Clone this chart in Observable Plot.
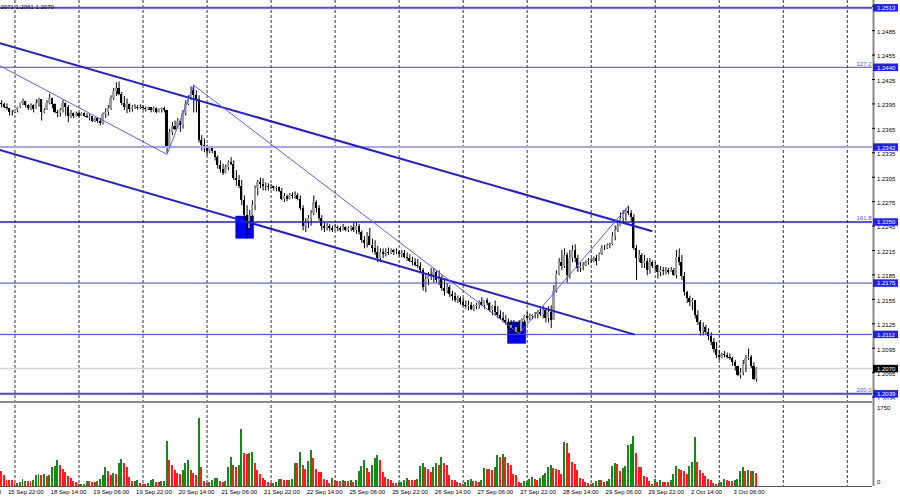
<!DOCTYPE html>
<html><head><meta charset="utf-8">
<script src="https://cdn.jsdelivr.net/npm/d3@7"></script>
<script src="https://cdn.jsdelivr.net/npm/@observablehq/plot@0.6"></script>
<style>
body{margin:0;background:#fff;}
#chart{width:900px;height:500px;overflow:hidden;background:#fff;}
#chart svg{display:block;}
</style></head><body><div id="chart"></div>
<script>
// ---- data (H1 bars, index 0 = 15 Sep 22:00) ----
const firstIndex = -2;
const firstOpen = 1.2396;
const closes = [
1.2394,1.2391,1.2389,1.2384,1.2385,1.2387,1.2390,1.2395,1.2398,1.2393,
1.2389,1.2393,1.2388,1.2396,1.2400,1.2384,1.2387,1.2396,1.2402,1.2394,
1.2385,1.2383,1.2387,1.2395,1.2391,1.2379,1.2383,1.2379,1.2383,1.2380,
1.2383,1.2380,1.2378,1.2379,1.2374,1.2377,1.2373,1.2371,1.2382,1.2384,
1.2389,1.2402,1.2410,1.2414,1.2407,1.2396,1.2391,1.2394,1.2388,1.2390,
1.2391,1.2389,1.2391,1.2389,1.2388,1.2390,1.2387,1.2389,1.2385,1.2388,
1.2389,1.2387,1.2342,1.2360,1.2367,1.2364,1.2373,1.2368,1.2383,1.2394,
1.2401,1.2412,1.2405,1.2401,1.2350,1.2344,1.2340,1.2337,1.2340,1.2336,
1.2329,1.2319,1.2315,1.2310,1.2317,1.2323,1.2321,1.2303,1.2301,1.2293,
1.2276,1.2258,1.2242,1.2258,1.2270,1.2291,1.2298,1.2296,1.2293,1.2294,
1.2292,1.2293,1.2291,1.2292,1.2288,1.2278,1.2281,1.2278,1.2282,1.2281,
1.2283,1.2278,1.2266,1.2245,1.2249,1.2254,1.2260,1.2274,1.2267,1.2254,
1.2244,1.2242,1.2244,1.2242,1.2240,1.2243,1.2242,1.2239,1.2243,1.2240,
1.2242,1.2243,1.2239,1.2245,1.2237,1.2227,1.2224,1.2232,1.2221,1.2217,
1.2212,1.2205,1.2212,1.2210,1.2213,1.2211,1.2215,1.2212,1.2213,1.2210,
1.2211,1.2207,1.2205,1.2202,1.2200,1.2197,1.2195,1.2190,1.2169,1.2180,
1.2185,1.2183,1.2188,1.2178,1.2180,1.2168,1.2165,1.2169,1.2161,1.2158,
1.2153,1.2156,1.2151,1.2148,1.2146,1.2148,1.2143,1.2146,1.2148,1.2151,
1.2147,1.2153,1.2150,1.2141,1.2146,1.2139,1.2135,1.2131,1.2129,1.2125,
1.2119,1.2123,1.2114,1.2121,1.2116,1.2129,1.2134,1.2131,1.2134,1.2135,
1.2136,1.2139,1.2136,1.2141,1.2131,1.2139,1.2129,1.2165,1.2186,1.2200,
1.2195,1.2209,1.2184,1.2205,1.2215,1.2205,1.2193,1.2195,1.2197,1.2200,
1.2202,1.2201,1.2205,1.2202,1.2210,1.2217,1.2218,1.2221,1.2222,1.2232,
1.2239,1.2244,1.2254,1.2259,1.2263,1.2260,1.2256,1.2217,1.2205,1.2209,
1.2199,1.2202,1.2190,1.2200,1.2195,1.2197,1.2188,1.2190,1.2189,1.2190,
1.2188,1.2190,1.2184,1.2207,1.2200,1.2183,1.2163,1.2156,1.2151,1.2153,
1.2135,1.2126,1.2116,1.2121,1.2114,1.2109,1.2102,1.2094,1.2086,1.2084,
1.2087,1.2086,1.2084,1.2082,1.2077,1.2072,1.2062,1.2065,1.2075,1.2082,
1.2084,1.2072,1.2057,1.2070];
const highs = [
1.2399,1.2396,1.2395,1.2389,1.2387,1.2388,1.2391,1.2396,1.2401,1.2398,
1.2394,1.2395,1.2394,1.2400,1.2402,1.2393,1.2389,1.2399,1.2407,1.2399,
1.2395,1.2387,1.2389,1.2399,1.2396,1.2393,1.2387,1.2384,1.2385,1.2384,
1.2384,1.2384,1.2383,1.2382,1.2379,1.2378,1.2378,1.2377,1.2384,1.2389,
1.2393,1.2405,1.2414,1.2421,1.2422,1.2409,1.2404,1.2401,1.2395,1.2393,
1.2394,1.2393,1.2394,1.2393,1.2391,1.2391,1.2390,1.2391,1.2390,1.2389,
1.2390,1.2391,1.2387,1.2364,1.2372,1.2374,1.2377,1.2374,1.2387,1.2399,
1.2405,1.2416,1.2418,1.2411,1.2405,1.2356,1.2352,1.2344,1.2342,1.2342,
1.2337,1.2331,1.2325,1.2321,1.2320,1.2325,1.2329,1.2325,1.2313,1.2307,
1.2301,1.2282,1.2270,1.2264,1.2276,1.2294,1.2301,1.2304,1.2303,1.2298,
1.2297,1.2296,1.2294,1.2294,1.2293,1.2291,1.2285,1.2283,1.2285,1.2286,
1.2287,1.2285,1.2282,1.2270,1.2254,1.2258,1.2264,1.2282,1.2276,1.2270,
1.2258,1.2249,1.2248,1.2247,1.2245,1.2247,1.2245,1.2244,1.2247,1.2244,
1.2244,1.2245,1.2249,1.2249,1.2247,1.2239,1.2232,1.2237,1.2242,1.2229,
1.2227,1.2220,1.2217,1.2217,1.2217,1.2218,1.2217,1.2216,1.2217,1.2215,
1.2215,1.2215,1.2212,1.2210,1.2207,1.2205,1.2204,1.2200,1.2193,1.2184,
1.2188,1.2193,1.2193,1.2190,1.2190,1.2184,1.2178,1.2174,1.2172,1.2165,
1.2163,1.2159,1.2158,1.2156,1.2153,1.2153,1.2151,1.2148,1.2150,1.2153,
1.2157,1.2153,1.2156,1.2151,1.2147,1.2153,1.2146,1.2141,1.2139,1.2135,
1.2131,1.2129,1.2129,1.2126,1.2129,1.2131,1.2135,1.2139,1.2137,1.2136,
1.2139,1.2141,1.2143,1.2146,1.2143,1.2146,1.2147,1.2172,1.2190,1.2205,
1.2215,1.2217,1.2212,1.2215,1.2221,1.2222,1.2209,1.2200,1.2200,1.2202,
1.2205,1.2205,1.2207,1.2209,1.2212,1.2221,1.2221,1.2223,1.2224,1.2237,
1.2245,1.2249,1.2261,1.2264,1.2266,1.2269,1.2264,1.2259,1.2221,1.2215,
1.2211,1.2209,1.2205,1.2205,1.2202,1.2200,1.2197,1.2195,1.2194,1.2194,
1.2193,1.2194,1.2193,1.2215,1.2217,1.2209,1.2188,1.2165,1.2159,1.2156,
1.2153,1.2141,1.2129,1.2126,1.2123,1.2119,1.2114,1.2107,1.2102,1.2092,
1.2089,1.2091,1.2089,1.2088,1.2084,1.2080,1.2073,1.2070,1.2080,1.2086,
1.2094,1.2086,1.2077,1.2071];
const lows = [
1.2390,1.2389,1.2387,1.2380,1.2380,1.2383,1.2384,1.2389,1.2393,1.2390,
1.2387,1.2387,1.2384,1.2389,1.2391,1.2374,1.2383,1.2387,1.2394,1.2389,
1.2383,1.2378,1.2379,1.2384,1.2380,1.2372,1.2377,1.2377,1.2379,1.2378,
1.2380,1.2379,1.2377,1.2374,1.2372,1.2372,1.2371,1.2368,1.2369,1.2377,
1.2380,1.2387,1.2399,1.2404,1.2405,1.2393,1.2387,1.2383,1.2384,1.2385,
1.2388,1.2387,1.2388,1.2387,1.2385,1.2387,1.2384,1.2385,1.2383,1.2384,
1.2384,1.2384,1.2334,1.2344,1.2356,1.2362,1.2364,1.2360,1.2364,1.2380,
1.2393,1.2399,1.2384,1.2384,1.2347,1.2337,1.2335,1.2331,1.2334,1.2334,
1.2325,1.2315,1.2310,1.2307,1.2309,1.2313,1.2319,1.2301,1.2294,1.2291,
1.2270,1.2251,1.2229,1.2233,1.2245,1.2264,1.2282,1.2291,1.2288,1.2288,
1.2288,1.2290,1.2288,1.2287,1.2286,1.2276,1.2274,1.2275,1.2277,1.2278,
1.2278,1.2276,1.2264,1.2239,1.2237,1.2242,1.2245,1.2258,1.2261,1.2251,
1.2239,1.2237,1.2239,1.2238,1.2237,1.2239,1.2238,1.2237,1.2239,1.2238,
1.2237,1.2238,1.2237,1.2235,1.2234,1.2224,1.2217,1.2218,1.2221,1.2212,
1.2209,1.2200,1.2200,1.2205,1.2207,1.2209,1.2210,1.2209,1.2210,1.2207,
1.2206,1.2205,1.2202,1.2200,1.2196,1.2195,1.2193,1.2188,1.2165,1.2163,
1.2172,1.2178,1.2175,1.2175,1.2172,1.2165,1.2159,1.2162,1.2157,1.2153,
1.2151,1.2150,1.2148,1.2146,1.2143,1.2141,1.2141,1.2140,1.2142,1.2143,
1.2146,1.2143,1.2147,1.2139,1.2135,1.2135,1.2131,1.2129,1.2126,1.2123,
1.2116,1.2110,1.2108,1.2109,1.2114,1.2107,1.2119,1.2129,1.2129,1.2130,
1.2131,1.2131,1.2134,1.2131,1.2126,1.2126,1.2119,1.2129,1.2163,1.2184,
1.2190,1.2193,1.2175,1.2180,1.2200,1.2200,1.2188,1.2188,1.2190,1.2195,
1.2197,1.2199,1.2200,1.2196,1.2202,1.2209,1.2215,1.2216,1.2217,1.2221,
1.2227,1.2237,1.2245,1.2249,1.2251,1.2258,1.2249,1.2215,1.2178,1.2200,
1.2193,1.2193,1.2184,1.2186,1.2193,1.2190,1.2180,1.2183,1.2184,1.2185,
1.2185,1.2188,1.2183,1.2180,1.2196,1.2178,1.2159,1.2150,1.2146,1.2141,
1.2131,1.2123,1.2110,1.2110,1.2111,1.2104,1.2098,1.2089,1.2082,1.2080,
1.2082,1.2083,1.2082,1.2080,1.2073,1.2067,1.2060,1.2057,1.2061,1.2065,
1.2080,1.2070,1.2055,1.2053];
const volumes = [
344,246,135,130,128,60,75,97,164,112,
110,105,134,246,261,246,261,231,250,418,
448,583,470,373,321,231,172,120,97,45,
48,50,112,105,90,82,112,150,246,433,
344,246,284,270,508,598,523,418,209,105,
120,125,60,55,45,60,134,157,97,92,
112,118,1008,583,470,358,284,280,358,523,
575,358,284,246,1516,418,112,75,97,134,
172,180,120,82,112,418,657,470,433,470,
1270,747,720,750,760,508,358,269,172,134,
97,60,65,97,157,150,134,130,140,157,
523,508,755,470,373,560,807,635,373,321,
315,157,134,60,172,134,120,115,134,120,
105,134,97,134,336,448,583,396,321,470,
620,687,583,321,209,157,134,75,60,82,
97,134,172,134,130,125,150,448,523,418,
388,321,418,523,470,657,508,470,246,134,
130,97,60,45,97,134,164,120,115,97,
134,396,390,385,358,433,695,642,717,657,
523,470,269,246,97,75,112,120,164,194,
164,134,187,246,299,418,470,396,381,358,
261,978,956,747,545,493,358,172,157,97,
60,45,60,120,134,130,97,120,150,448,
508,500,344,396,448,919,934,1120,732,433,
418,224,194,120,45,150,97,134,97,90,
82,134,269,448,373,365,344,269,448,545,
1105,545,358,284,224,157,134,60,45,75,
82,164,134,120,115,134,150,344,433,344,
350,340,345,299];

const timeLabelIdx = [-16,0,16,32,48,64,80,96,112,128,144,160,176,192,208,224,240,256,272];
const timeLabels = ["15 Sep 06:00","15 Sep 22:00","18 Sep 14:00","19 Sep 06:00","19 Sep 22:00","20 Sep 14:00",
  "21 Sep 06:00","21 Sep 22:00","22 Sep 14:00","25 Sep 06:00","25 Sep 22:00","26 Sep 14:00","27 Sep 06:00",
  "27 Sep 22:00","28 Sep 14:00","29 Sep 06:00","29 Sep 22:00","2 Oct 14:00","3 Oct 06:00"];
const gridIdx = [3,27,51,75,99,123,147,171,195,219,243,267,291,315];
const priceTicks = [1.2515,1.2485,1.2455,1.2425,1.2395,1.2365,1.2335,1.2305,1.2275,1.2245,1.2215,1.2185,1.2155,1.2125,1.2095,1.2065,1.2035];
const levels = [1.2513,1.2440,1.2342,1.2250,1.2175,1.2112,1.2039];
const fibLevels = [1.2440,1.2250,1.2039];
const fibLabels = ["127.2","161.8","200.0"];
const currentPrice = 1.2070;
const ohlcText = "2071 1.2061 1.2070";
const volTicks = [1750, 0];
const channelUpper = [{i:-20,p:1.2486},{i:241.6,p:1.2239}];
const channelLower = [{i:-20,p:1.2355},{i:235,p:1.2112}];
const zigzag = [{i:-20,p:1.2472},{i:60,p:1.2333},{i:70,p:1.2418},{i:192,p:1.2113},{i:233,p:1.2270}];
const boxes = [{i1:85.8,i2:92.7,p1:1.2257,p2:1.2229},{i1:187.7,i2:194.7,p1:1.2127,p2:1.2100}];

// ---- styles ----
const levelColors = ["#4848f0","#3c3cff","#a4a4fa","#1414ff","#3c3cff","#3c3cff","#4848f0"];
const levelWidths = [2,1,2,1.6,1,1,2];
const font = "'Liberation Sans', Arial, sans-serif";
const xDomain = [-2.4366, 324.44];

const candles = closes.map((c, k) => {
  const o = k === 0 ? firstOpen : closes[k - 1];
  return {i: firstIndex + k, o, c, h: Math.max(highs[k], o, c), l: Math.min(lows[k], o, c)};
});
const vols = volumes.map((v, k) => ({i: firstIndex + k, v, up: k > 0 && v > volumes[k - 1]}));

const main = Plot.plot({
  width: 900, height: 400, marginLeft: 0, marginRight: 28, marginTop: 0, marginBottom: 0,
  x: {domain: xDomain, axis: null},
  y: {domain: [1.20308, 1.25220], axis: null},
  style: {fontFamily: font, fontSize: "6px", background: "#fff", color: "#000"},
  marks: [
    Plot.ruleX(gridIdx, {stroke: "#333", strokeDasharray: "3,2", strokeWidth: 1}),
    Plot.ruleY([currentPrice], {stroke: "#d4d4d4", strokeWidth: 1.5}),
    Plot.rect(boxes, {x1: "i1", x2: "i2", y1: "p1", y2: "p2", fill: "#0000ff"}),
    Plot.ruleX(candles, {x: "i", y1: "l", y2: "h", stroke: "#000", strokeWidth: 1}),
    Plot.rect(candles, {x1: d => d.i - 0.4, x2: d => d.i + 0.4, y1: "o", y2: "c",
      fill: d => d.c >= d.o ? "#9c9c9c" : "#000", shapeRendering: "crispEdges"}),
    ...levels.map((v, k) => Plot.ruleY([v], {stroke: levelColors[k], strokeWidth: levelWidths[k]})),
    Plot.line(channelUpper, {x: "i", y: "p", stroke: "#1c1ce8", strokeWidth: 2, clip: true}),
    Plot.line(channelLower, {x: "i", y: "p", stroke: "#1c1ce8", strokeWidth: 2, clip: true}),
    Plot.line(zigzag, {x: "i", y: "p", stroke: "#5c5cff", strokeWidth: 1, clip: true}),
    Plot.text(fibLevels, {y: d => d, text: (d, k) => fibLabels[k], frameAnchor: "right", dx: -1, dy: -3.5,
      textAnchor: "end", fill: "#5050ff", fontSize: 6}),
    Plot.text([ohlcText], {frameAnchor: "top-left", lineAnchor: "middle", dx: 0, dy: 6.7, textAnchor: "start",
      text: d => d, fill: "#000", fontSize: 6}),
    Plot.ruleX([xDomain[1]], {stroke: "#8a8a8a", strokeWidth: 2, dx: 1}),
    Plot.ruleY(priceTicks, {insetLeft: 872, insetRight: -3, stroke: "#000"}),
    Plot.text(priceTicks, {y: d => d, frameAnchor: "right", dx: 4.5, dy: 1.5, textAnchor: "start",
      text: d => d.toFixed(4), fill: "#000", fontSize: 6}),
    Plot.ruleY(levels, {insetLeft: 873, insetRight: -26, stroke: "#1e1eff", strokeWidth: 7.5}),
    Plot.text(levels, {y: d => d, frameAnchor: "right", dx: 4.5, dy: 0.5, textAnchor: "start",
      text: d => d.toFixed(4), fill: "#fff", fontSize: 6}),
    Plot.ruleY([currentPrice], {insetLeft: 873, insetRight: -26, stroke: "#000", strokeWidth: 7.5}),
    Plot.text([currentPrice], {y: d => d, frameAnchor: "right", dx: 4.5, dy: 0.5, textAnchor: "start",
      text: d => d.toFixed(4), fill: "#fff", fontSize: 6})
  ]
});

const volMax = 1929.5;
const vol = Plot.plot({
  width: 900, height: 100, marginLeft: 0, marginRight: 28, marginTop: 0, marginBottom: 14,
  x: {domain: xDomain, axis: null},
  y: {domain: [0, volMax], axis: null},
  style: {fontFamily: font, fontSize: "6px", background: "#fff", color: "#000"},
  marks: [
    Plot.ruleX(gridIdx, {stroke: "#333", strokeDasharray: "3,2", strokeWidth: 1}),
    Plot.rectY(vols, {x1: d => d.i - 0.37, x2: d => d.i + 0.37, y: "v",
      fill: d => d.up ? "#128c12" : "#ff1c1c", shapeRendering: "crispEdges"}),
    Plot.ruleY([volMax], {stroke: "#8a8a8a", strokeWidth: 2, dy: 1.5}),
    Plot.ruleY([0], {stroke: "#555", strokeWidth: 1}),
    Plot.ruleX([xDomain[1]], {stroke: "#8a8a8a", strokeWidth: 2, dx: 1}),
    Plot.text([volTicks[0]], {y: d => d, frameAnchor: "right", dx: 4.5, dy: 0, textAnchor: "start",
      text: d => String(d), fill: "#000", fontSize: 6}),
    Plot.text([volTicks[1]], {y: d => d, frameAnchor: "right", dx: 4.5, dy: -4.3, textAnchor: "start",
      text: d => String(d), fill: "#000", fontSize: 6}),
    Plot.text(timeLabelIdx, {x: d => d, frameAnchor: "bottom", lineAnchor: "middle", dy: 6, dx: 1,
      textAnchor: "start", text: (d, k) => timeLabels[k], fill: "#000", fontSize: 6})
  ]
});

const root = document.getElementById("chart");
root.appendChild(main);
root.appendChild(vol);
</script>
</body></html>
